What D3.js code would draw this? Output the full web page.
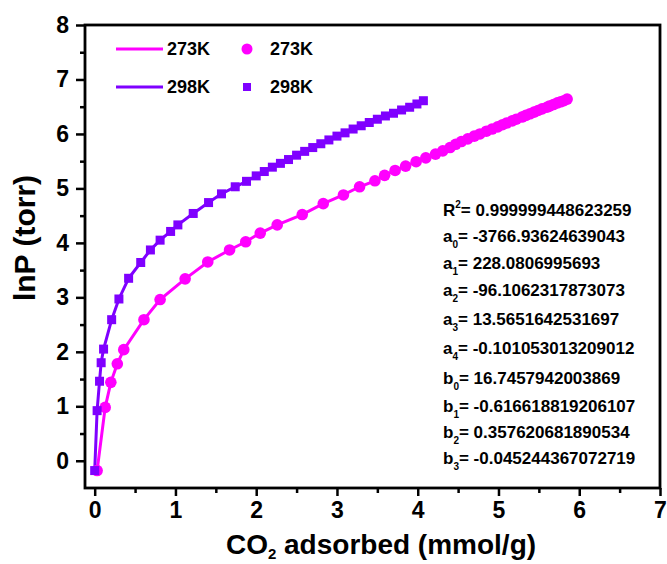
<!DOCTYPE html>
<html>
<head>
<meta charset="utf-8">
<script src="https://cdn.jsdelivr.net/npm/d3@7"></script>
<style>
	body { margin: 0; background: #fff; }
	svg { display: block; font-family: "Liberation Sans", Arial, sans-serif; font-weight: bold; }
</style>
</head>
<body>
<svg id="chart" width="667" height="564"></svg>
<script>
// 273K isotherm (circles)
var x273 = [0.03, 0.13, 0.20, 0.28, 0.36, 0.61, 0.81, 1.12, 1.40, 1.67, 1.87, 2.05, 2.26, 2.57, 2.83, 3.08, 3.28,
	3.47, 3.59, 3.72, 3.85, 3.98, 4.10, 4.22, 4.31, 4.40, 4.47, 4.54, 4.62, 4.70, 4.77, 4.85, 4.92, 4.99, 5.05,
	5.10, 5.17, 5.22, 5.29, 5.34, 5.39, 5.44, 5.49, 5.54, 5.60, 5.63, 5.68, 5.73, 5.77, 5.81, 5.85];
var y273 = [-0.18, 0.98, 1.44, 1.78, 2.04, 2.59, 2.96, 3.34, 3.65, 3.87, 4.02, 4.18, 4.33, 4.52, 4.72, 4.88, 5.03,
	5.14, 5.24, 5.33, 5.41, 5.49, 5.56, 5.63, 5.69, 5.75, 5.81, 5.86, 5.91, 5.96, 6.00, 6.05, 6.09, 6.13, 6.17,
	6.20, 6.24, 6.27, 6.31, 6.34, 6.37, 6.40, 6.43, 6.46, 6.49, 6.51, 6.54, 6.57, 6.59, 6.61, 6.64];

// 298K isotherm (squares)
var x298 = [0.00, 0.03, 0.06, 0.08, 0.11, 0.21, 0.30, 0.42, 0.57, 0.69, 0.81, 0.94, 1.03, 1.22, 1.41, 1.57, 1.74, 1.88, 2.00,
	2.10, 2.20, 2.30, 2.40, 2.50, 2.60, 2.70, 2.80, 2.90, 3.00, 3.10, 3.20, 3.30, 3.40, 3.50, 3.60, 3.70, 3.80, 3.90, 3.99, 4.07];
var y298 = [-0.18, 0.92, 1.46, 1.80, 2.05, 2.59, 2.97, 3.35, 3.64, 3.87, 4.05, 4.21, 4.33, 4.54, 4.74, 4.90, 5.03, 5.13, 5.23,
	5.31, 5.39, 5.46, 5.53, 5.61, 5.68, 5.75, 5.82, 5.89, 5.96, 6.02, 6.09, 6.15, 6.21, 6.27, 6.33, 6.38, 6.44, 6.49, 6.55, 6.61];

var seriesNames = ["273K", "298K"];
var seriesColors = ["#ff00ff", "#7f00ff"];

var xTicks = [0, 1, 2, 3, 4, 5, 6, 7];
var yTicks = [0, 1, 2, 3, 4, 5, 6, 7, 8];

var fitLabels = ["R", "a", "a", "a", "a", "a", "b", "b", "b", "b"];
var fitIndex = ["2", "0", "1", "2", "3", "4", "0", "1", "2", "3"];
var fitValues = ["0.999999448623259", "-3766.93624639043", "228.0806995693", "-96.1062317873073",
	"13.5651642531697", "-0.101053013209012", "16.7457942003869", "-0.616618819206107",
	"0.357620681890534", "-0.045244367072719"];

var svg = d3.select("#chart");
var mLeft = 85, mRight = 660, mTop = 25, mBottom = 488;

var x = d3.scaleLinear().domain([-0.12, 7]).range([mLeft, mRight]);
var y = d3.scaleLinear().domain([-0.5, 8]).range([mBottom, mTop]);

// axes: major + minor ticks
var xMinor = d3.range(0.5, 7, 1);
var yMinor = d3.range(0.5, 8, 1);

function styleTicks(g) {
	g.select(".domain").remove();
	g.selectAll("line").attr("stroke-width", 2.5);
	g.selectAll("text").attr("font-size", 23).attr("font-weight", "bold")
		.attr("font-family", "Liberation Sans, Arial").attr("fill", "#000");
}

svg.append("g")
	.attr("transform", "translate(0," + mBottom + ")")
	.call(d3.axisBottom(x).tickValues(xMinor).tickSize(5).tickFormat(""))
	.call(styleTicks);
svg.append("g")
	.attr("transform", "translate(0," + mBottom + ")")
	.call(d3.axisBottom(x).tickValues(xTicks).tickSize(8).tickPadding(6))
	.call(styleTicks);

svg.append("g")
	.attr("transform", "translate(" + mLeft + ",0)")
	.call(d3.axisLeft(y).tickValues(yMinor).tickSize(5).tickFormat(""))
	.call(styleTicks);
svg.append("g")
	.attr("transform", "translate(" + mLeft + ",0)")
	.call(d3.axisLeft(y).tickValues(yTicks).tickSize(9).tickPadding(7))
	.call(styleTicks);

// frame
svg.append("rect")
	.attr("x", mLeft).attr("y", mTop)
	.attr("width", mRight - mLeft).attr("height", mBottom - mTop)
	.attr("fill", "none").attr("stroke", "#000").attr("stroke-width", 2.8);

// series
var line = d3.line().x(function(d) { return x(d[0]); }).y(function(d) { return y(d[1]); });
var data273 = d3.zip(x273, y273);
var data298 = d3.zip(x298, y298);

svg.append("path").datum(data273)
	.attr("d", line).attr("fill", "none").attr("stroke", seriesColors[0]).attr("stroke-width", 3);
svg.append("path").datum(data298)
	.attr("d", line).attr("fill", "none").attr("stroke", seriesColors[1]).attr("stroke-width", 3);

svg.append("g").selectAll("circle").data(data273).enter().append("circle")
	.attr("cx", function(d) { return x(d[0]); })
	.attr("cy", function(d) { return y(d[1]); })
	.attr("r", 5.8)
	.attr("fill", seriesColors[0]);

svg.append("g").selectAll("rect").data(data298).enter().append("rect")
	.attr("x", function(d) { return x(d[0]) - 4.5; })
	.attr("y", function(d) { return y(d[1]) - 4.5; })
	.attr("width", 9).attr("height", 9)
	.attr("fill", seriesColors[1]);

// legend
var legend = svg.append("g");
seriesNames.forEach(function(name, i) {
	var ly = 49 + i * 38;
	legend.append("line")
		.attr("x1", 116).attr("x2", 163).attr("y1", ly).attr("y2", ly)
		.attr("stroke", seriesColors[i]).attr("stroke-width", 3);
	legend.append("text").attr("x", 167).attr("y", ly + 6)
		.attr("font-size", 18).text(name);
	if (i === 0) {
		legend.append("circle").attr("cx", 247).attr("cy", ly).attr("r", 5.5).attr("fill", seriesColors[i]);
	} else {
		legend.append("rect").attr("x", 243).attr("y", ly - 4).attr("width", 8).attr("height", 8).attr("fill", seriesColors[i]);
	}
	legend.append("text").attr("x", 270).attr("y", ly + 6)
		.attr("font-size", 18).text(name);
});

// fit parameters
var rowY = [216, 242, 269, 296, 325, 354, 384, 412, 438, 464];
var fit = svg.append("g").attr("font-size", 17);
fitValues.forEach(function(v, i) {
	var t = fit.append("text").attr("x", 443).attr("y", rowY[i]);
	t.append("tspan").text(fitLabels[i]);
	if (i === 0) {
		t.append("tspan").attr("font-size", 10).attr("dy", -8).text(fitIndex[i]);
		t.append("tspan").attr("dy", 8).text("=  " + v);
	} else {
		t.append("tspan").attr("font-size", 10).attr("dy", 6).text(fitIndex[i]);
		t.append("tspan").attr("dy", -6).text("= " + v);
	}
});

// axis titles
var xt = svg.append("text")
	.attr("x", 381).attr("y", 554)
	.attr("text-anchor", "middle").attr("font-size", 28);
xt.append("tspan").text("CO");
xt.append("tspan").attr("font-size", 15).attr("dy", 5).text("2");
xt.append("tspan").attr("dy", -5).text(" adsorbed (mmol/g)");

svg.append("text")
	.attr("transform", "translate(35,238) rotate(-90)")
	.attr("text-anchor", "middle").attr("font-size", 30)
	.text("lnP (torr)");
</script>
</body>
</html>
